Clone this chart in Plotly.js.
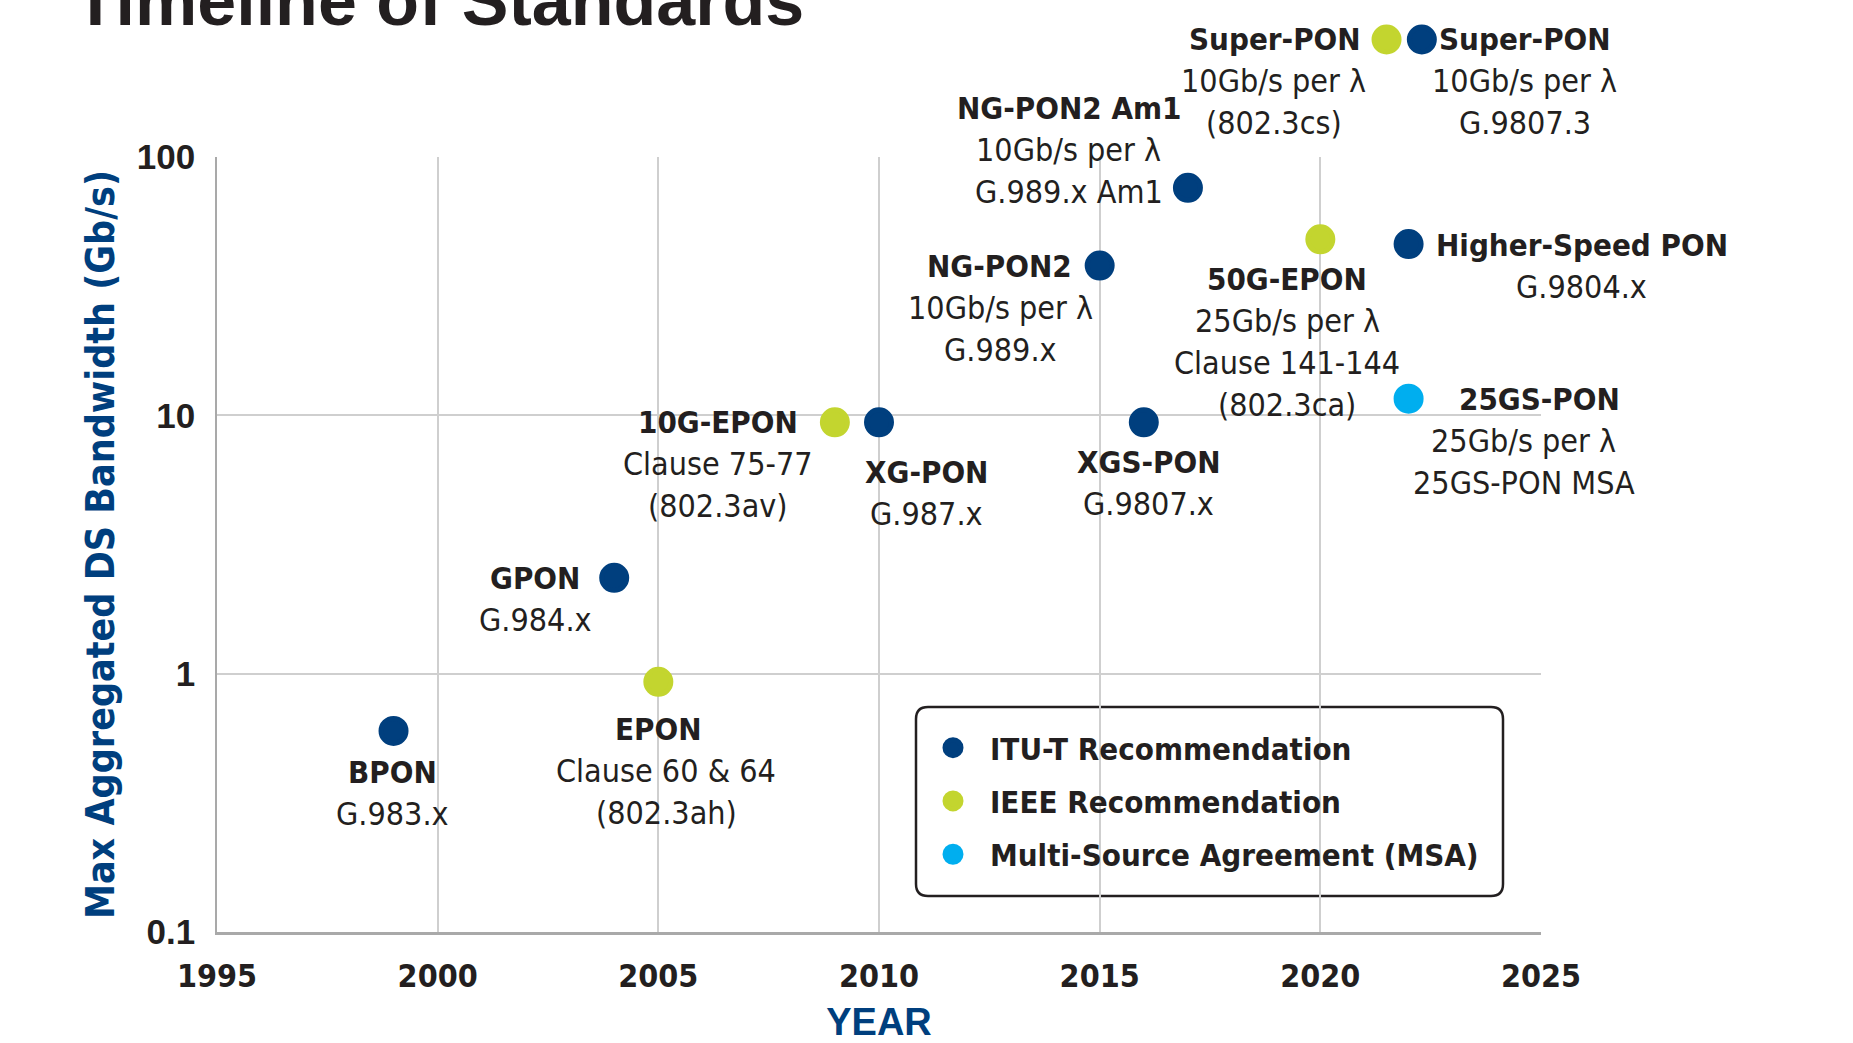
<!DOCTYPE html>
<html>
<head>
<meta charset="utf-8">
<script src="https://cdn.plot.ly/plotly-3.0.1.min.js"></script>
<style>
  html, body { margin: 0; padding: 0; background: #ffffff; }
  #chart { width: 1853px; height: 1043px; }
</style>
</head>
<body>
<div id="chart"></div>
<script>
// ---------------- DATA ----------------
var standards = ['BPON', 'GPON', 'EPON', '10G-EPON', 'XG-PON', 'NG-PON2', 'NG-PON2 Am1',
                 'XGS-PON', '50G-EPON', 'Super-PON', 'Super-PON', 'Higher-Speed PON', '25GS-PON'];
var years = [1999, 2004, 2005, 2009, 2010, 2015, 2017, 2016, 2020, 2021.5, 2022.3, 2022, 2022];
var bandwidthGbps = [0.6, 2.35, 0.93, 9.4, 9.4, 38, 76, 9.4, 48, 285, 285, 46, 11.6];
var bodies = ['ITU', 'ITU', 'IEEE', 'IEEE', 'ITU', 'ITU', 'ITU', 'ITU', 'IEEE', 'IEEE', 'ITU', 'ITU', 'MSA'];
var details = [
  ['G.983.x'],
  ['G.984.x'],
  ['Clause 60 & 64', '(802.3ah)'],
  ['Clause 75-77', '(802.3av)'],
  ['G.987.x'],
  ['10Gb/s per λ', 'G.989.x'],
  ['10Gb/s per λ', 'G.989.x Am1'],
  ['G.9807.x'],
  ['25Gb/s per λ', 'Clause 141-144', '(802.3ca)'],
  ['10Gb/s per λ', '(802.3cs)'],
  ['10Gb/s per λ', 'G.9807.3'],
  ['G.9804.x'],
  ['25Gb/s per λ', '25GS-PON MSA']
];
var bodyKeys = ['ITU', 'IEEE', 'MSA'];
var bodyNames = ['ITU-T Recommendation', 'IEEE Recommendation', 'Multi-Source Agreement (MSA)'];
var yTickVals = [0.1, 1, 10, 100];
var yTickText = ['0.1', '1', '10', '100'];
var xTickVals = [1995, 2000, 2005, 2010, 2015, 2020, 2025];
var xRange = [1995, 2025];
var yRangeLog = [-1, 2];

// ---------------- STYLE / POSITIONS ----------------
var bodyColors = { ITU: '#003f7e', IEEE: '#c3d52f', MSA: '#00aeef' };
var textColor = '#231f20';
var blueTitle = '#003f7e';
var condensed = "'Liberation Sans Narrow', 'Arial Narrow', 'DejaVu Sans Condensed', sans-serif";
var regular = "'Liberation Sans', Arial, sans-serif";
var W = 1853, H = 1043;
var M = { l: 217, r: 312, t: 157, b: 111 };           // main plot frame in px
var plotH = H - M.b;                                    // paper height (top margin 0)
var mainDomainTop = (H - M.t - M.b) / plotH;
var decadePx = (H - M.t - M.b) / (yRangeLog[1] - yRangeLog[0]);
var LINE = 42;   // px between label lines
// label placement in px relative to marker: [dx name, dy name, dx details]
var labelPos = [
  [-1, 41, -1],
  [-79, 0, -79],
  [0, 47, 8],
  [-117, 0, -117],
  [47, 50, 47],
  [-100, 0, -99],
  [-119, -80, -119],
  [5, 40, 5],
  [-33, 40, -33],
  [-112, -1, -113],
  [103, -1, 103],
  [173, 1, 173],
  [131, 0, 115]
];

// ---------------- TRACES ----------------
// points above the main range are drawn on an overlay axis pair that extends into the top margin
function isAbove(i) { return bandwidthGbps[i] > Math.pow(10, yRangeLog[1]); }
var traces = [];
[false, true].forEach(function (above) {
  bodyKeys.forEach(function (key, k) {
    var xs = [], ys = [], names = [];
    for (var i = 0; i < years.length; i++) {
      if (bodies[i] === key && isAbove(i) === above) {
        xs.push(years[i]); ys.push(bandwidthGbps[i]); names.push(standards[i]);
      }
    }
    if (above && xs.length === 0) return;
    traces.push({
      type: 'scatter', mode: 'markers', x: xs, y: ys, text: names,
      xaxis: above ? 'x2' : 'x', yaxis: above ? 'y2' : 'y',
      name: bodyNames[k], legendgroup: key, showlegend: !above, cliponaxis: false,
      marker: { size: 25, color: bodyColors[key], line: { width: 5, color: bodyColors[key] } },
      hovertemplate: '%{text}<br>%{x}: %{y} Gb/s<extra></extra>'
    });
  });
});

// ---------------- LABELS ----------------
var annotations = [];
for (var i = 0; i < standards.length; i++) {
  var p = labelPos[i];
  var ly = Math.log10(bandwidthGbps[i]);
  var xr = isAbove(i) ? 'x2' : 'x', yr = isAbove(i) ? 'y2' : 'y';
  annotations.push({
    x: years[i], y: ly, xref: xr, yref: yr, showarrow: false,
    text: '<b>' + standards[i] + '</b>', xanchor: 'center', yanchor: 'middle',
    xshift: p[0], yshift: -p[1],
    font: { family: condensed, size: 31, color: textColor }
  });
  for (var j = 0; j < details[i].length; j++) {
    annotations.push({
      x: years[i], y: ly, xref: xr, yref: yr, showarrow: false,
      text: details[i][j], xanchor: 'center', yanchor: 'middle',
      xshift: p[2], yshift: -(p[1] + LINE * (j + 1)),
      font: { family: condensed, size: 32, color: textColor }
    });
  }
}

// rounded legend frame (paper coords)
var plotW = W - M.l - M.r;
var bx0 = (916 - M.l) / plotW, bx1 = (1503 - M.l) / plotW;
var by0 = (plotH - 896) / plotH, by1 = (plotH - 707) / plotH;
var rx = 12 / plotW, ry = 12 / plotH;
var framePath = 'M ' + (bx0 + rx) + ',' + by1 + ' L ' + (bx1 - rx) + ',' + by1 +
  ' Q ' + bx1 + ',' + by1 + ' ' + bx1 + ',' + (by1 - ry) +
  ' L ' + bx1 + ',' + (by0 + ry) + ' Q ' + bx1 + ',' + by0 + ' ' + (bx1 - rx) + ',' + by0 +
  ' L ' + (bx0 + rx) + ',' + by0 + ' Q ' + bx0 + ',' + by0 + ' ' + bx0 + ',' + (by0 + ry) +
  ' L ' + bx0 + ',' + (by1 - ry) + ' Q ' + bx0 + ',' + by1 + ' ' + (bx0 + rx) + ',' + by1 + ' Z';

var layout = {
  width: W, height: H,
  paper_bgcolor: '#ffffff', plot_bgcolor: 'rgba(0,0,0,0)',
  margin: { l: M.l, r: M.r, t: 0, b: M.b, pad: 0, autoexpand: false },
  title: {
    text: '<b>Timeline of Standards</b>',
    xref: 'container', yref: 'container', x: 0.040, xanchor: 'left', y: 1, yanchor: 'middle',
    font: { family: regular, size: 70, color: textColor }
  },
  xaxis: {
    range: xRange, tickvals: xTickVals, ticks: '', ticklabelstandoff: 14,
    showgrid: true, gridcolor: '#cfcfcf', gridwidth: 1.5,
    showline: true, linecolor: '#a9a9a9', linewidth: 3, zeroline: false,
    tickfont: { family: condensed, size: 32, color: textColor, weight: 'bold' },
    title: { text: '<b>YEAR</b>', standoff: 25, font: { family: regular, size: 38, color: blueTitle } },
    anchor: 'y', automargin: 'bottom', fixedrange: true
  },
  yaxis: {
    type: 'log', range: yRangeLog, domain: [0, mainDomainTop],
    tickvals: yTickVals, ticktext: yTickText, ticks: '', ticklabelstandoff: 13,
    showgrid: true, gridcolor: '#cfcfcf', gridwidth: 1.5,
    showline: true, linecolor: '#a9a9a9', linewidth: 1.5, zeroline: false,
    tickfont: { family: regular, size: 35, color: textColor, weight: 'bold' },
    title: { text: '<b>Max Aggregated DS Bandwidth (Gb/s)</b>', standoff: 10,
             font: { family: condensed, size: 39, color: blueTitle } },
    anchor: 'x', automargin: 'left', fixedrange: true
  },
  xaxis2: { range: xRange, domain: [0, 1], anchor: 'y2', visible: false, fixedrange: true },
  yaxis2: {
    type: 'log', domain: [0, 1], anchor: 'x2', visible: false, fixedrange: true,
    range: [yRangeLog[0], yRangeLog[1] + M.t / decadePx]
  },
  showlegend: true,
  legend: {
    x: bx0, y: (plotH - 721) / plotH, xanchor: 'left', yanchor: 'top',
    bgcolor: 'rgba(0,0,0,0)', borderwidth: 0, tracegroupgap: 10, itemwidth: 64,
    font: { family: condensed, size: 31, color: textColor, weight: 'bold' },
    itemclick: false, itemdoubleclick: false
  },
  shapes: [{
    type: 'path', xref: 'paper', yref: 'paper', path: framePath,
    line: { color: textColor, width: 2.5 }, fillcolor: '#ffffff', layer: 'between'
  }],
  annotations: annotations
};

Plotly.newPlot('chart', traces, layout, { displayModeBar: false });
</script>
</body>
</html>
